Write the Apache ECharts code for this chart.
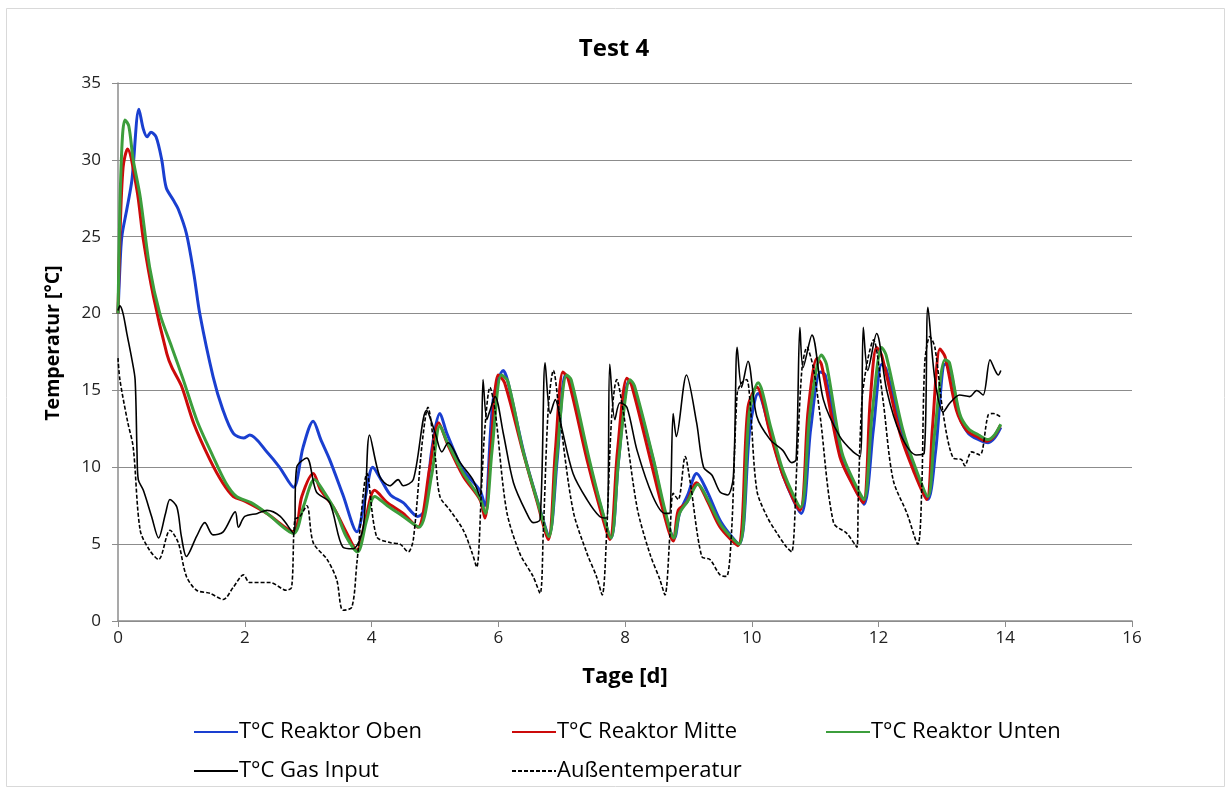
<!DOCTYPE html>
<html>
<head>
<meta charset="utf-8">
<title>Test 4</title>
<script src="https://cdn.jsdelivr.net/npm/echarts@6/dist/echarts.min.js"></script>
<style>
  html, body { margin: 0; padding: 0; background: #fff; }
  #chart { width: 1228px; height: 793px; }
</style>
</head>
<body>
<div id="chart"></div>
<script>
// Reihen: [Tage, Temperatur °C]
const seriesNames = ['T°C Reaktor Oben', 'T°C Reaktor Mitte', 'T°C Reaktor Unten', 'T°C Gas Input', 'Außentemperatur'];

const reaktorOben = [
  [0,20],[0.03,23],[0.06,25],[0.14,26.8],[0.22,28.7],[0.33,33.3],[0.4,32],[0.46,31.5],[0.52,31.8],[0.6,31.5],
  [0.69,30],[0.76,28.2],[0.87,27.4],[0.95,26.8],[1.08,25.2],[1.2,22.5],[1.29,20],[1.5,15.9],[1.65,13.8],[1.82,12.2],
  [1.98,11.9],[2.08,12.1],[2.35,11],[2.55,10],[2.77,8.7],[2.92,11.3],[3.08,13],[3.2,11.8],[3.34,10.5],[3.55,8.2],
  [3.77,5.8],[3.9,8],[4.02,10],[4.15,9.2],[4.3,8.2],[4.5,7.7],[4.73,6.8],[4.84,7.2],[4.95,11.1],[5.08,13.5],
  [5.19,12.2],[5.45,9.8],[5.71,8.5],[5.79,7.5],[5.92,14.4],[6.08,16.3],[6.15,15.6],[6.4,11],[6.62,7.8],[6.8,5.6],
  [6.93,10.5],[7.06,16],[7.14,15.6],[7.42,10.6],[7.62,7.4],[7.78,5.4],[7.9,10.5],[8.06,15.6],[8.14,15.2],[8.45,10.4],
  [8.62,7.2],[8.78,5.4],[8.86,7],[8.99,8.2],[9.13,9.6],[9.3,8.4],[9.52,6.4],[9.8,5.0],[9.97,12.5],[10.1,14.8],
  [10.3,12.2],[10.5,9.4],[10.78,7.0],[10.93,12.5],[11.08,16.2],[11.16,16],[11.42,10.5],[11.62,8.7],[11.77,7.6],[11.92,12.5],
  [12.05,16.7],[12.12,16.4],[12.38,12.2],[12.58,9.8],[12.78,7.9],[12.9,11],[13.05,16.7],[13.12,16.6],[13.28,13.3],[13.42,12.2],
  [13.58,11.8],[13.73,11.6],[13.83,11.9],[13.93,12.6]
];

const reaktorMitte = [
  [0,20],[0.03,25],[0.08,29.5],[0.15,30.7],[0.3,28],[0.4,24.8],[0.56,21.1],[0.77,17.4],[0.85,16.5],[1.0,15.3],
  [1.2,12.8],[1.45,10.5],[1.65,9],[1.82,8.1],[2.0,7.8],[2.35,7],[2.77,5.8],[2.9,8.1],[3.08,9.6],[3.2,8.5],
  [3.4,7.4],[3.6,5.8],[3.77,4.6],[3.9,6.5],[4.05,8.5],[4.25,7.7],[4.5,7.0],[4.73,6.1],[4.92,10],[5.06,12.9],
  [5.2,11.5],[5.45,9.4],[5.71,7.9],[5.79,6.7],[5.88,11],[6.0,16],[6.1,15.5],[6.39,11],[6.61,7.8],[6.79,5.3],
  [6.9,11],[7.02,16.2],[7.1,15.8],[7.4,10.5],[7.6,7.4],[7.76,5.3],[7.88,11],[8.03,15.8],[8.1,15.4],[8.4,10.5],
  [8.6,7.2],[8.76,5.2],[8.84,7.2],[8.97,7.7],[9.13,9.0],[9.3,7.8],[9.5,6.1],[9.78,4.9],[9.94,13.9],[10.08,15.2],
  [10.29,12.2],[10.5,9.4],[10.76,7.2],[10.89,13.7],[11.03,17.1],[11.1,16.7],[11.39,10.7],[11.6,8.8],[11.76,7.7],[11.87,14.4],
  [11.97,17.8],[12.05,17.3],[12.34,12.2],[12.55,9.8],[12.76,7.9],[12.85,12.5],[12.97,17.7],[13.05,17.2],[13.23,13.7],[13.39,12.4],
  [13.55,12],[13.71,11.7],[13.82,12],[13.92,12.7]
];

const reaktorUnten = [
  [0,20],[0.03,27],[0.07,31.5],[0.11,32.6],[0.17,32.2],[0.24,30],[0.35,27.6],[0.5,23],[0.66,20],[0.85,17.8],
  [1.03,15.7],[1.25,13],[1.5,10.7],[1.7,9],[1.87,8.1],[2.1,7.7],[2.35,7],[2.77,5.7],[2.93,7.5],[3.1,9.2],
  [3.25,8.4],[3.45,7],[3.6,5.5],[3.78,4.5],[3.92,6.5],[4.05,8.1],[4.25,7.5],[4.5,6.8],[4.75,6.1],[4.95,9.5],
  [5.08,12.7],[5.2,11.6],[5.45,9.6],[5.71,8.0],[5.8,7.0],[5.9,11],[6.05,16],[6.15,15.6],[6.39,11.1],[6.61,7.9],
  [6.8,5.5],[6.92,10.5],[7.08,16],[7.15,15.7],[7.42,10.8],[7.62,7.5],[7.78,5.4],[7.9,10.5],[8.08,15.7],[8.15,15.3],
  [8.45,10.5],[8.62,7.4],[8.77,5.4],[8.86,7],[8.99,7.8],[9.15,8.9],[9.32,7.8],[9.52,6.2],[9.8,5.0],[9.96,13.5],
  [10.1,15.5],[10.3,12.6],[10.5,9.7],[10.77,7.4],[10.92,13.6],[11.1,17.3],[11.18,16.7],[11.42,11],[11.62,9],[11.77,7.9],
  [11.9,13.5],[12.05,17.8],[12.12,17.3],[12.38,12.5],[12.58,10],[12.78,8.1],[12.88,12],[13.05,17.0],[13.12,16.8],[13.28,13.5],
  [13.42,12.5],[13.58,12.1],[13.73,11.8],[13.83,12.1],[13.93,12.8]
];

const gasInput = [
  [0,20.2],[0.03,20.5],[0.08,20],[0.14,18.7],[0.22,17],[0.27,15.7],[0.3,11],[0.32,9.2],[0.4,8.5],[0.53,6.8],
  [0.64,5.4],[0.75,7],[0.82,7.9],[0.93,7.4],[1.0,5.5],[1.08,4.2],[1.24,5.5],[1.37,6.4],[1.5,5.6],[1.66,5.8],
  [1.85,7.1],[1.9,6.1],[2.0,6.8],[2.2,7],[2.35,7.2],[2.56,6.8],[2.77,5.7],[2.82,10],[2.98,10.6],[3.13,8.4],
  [3.34,7.7],[3.55,4.8],[3.71,4.7],[3.87,6.1],[3.97,12.1],[4.13,9.4],[4.29,8.8],[4.42,9.2],[4.5,8.8],[4.66,9.2],
  [4.87,13.7],[5.0,12.3],[5.11,11],[5.21,11.6],[5.4,10.3],[5.6,9.2],[5.71,8.1],[5.76,15.7],[5.82,13.1],[5.87,13.7],
  [5.95,14.6],[6.08,12.2],[6.24,9],[6.45,7],[6.55,6.4],[6.66,6.6],[6.74,16.8],[6.82,13.5],[6.9,14.4],[7.0,12.6],
  [7.18,9.6],[7.4,7.9],[7.6,6.8],[7.71,6.7],[7.76,16.7],[7.84,13.1],[7.92,14.2],[8.03,13.9],[8.19,11.1],[8.44,8.1],
  [8.63,7],[8.7,7],[8.76,13.5],[8.81,12],[8.97,16],[9.13,12.9],[9.24,10],[9.37,9.5],[9.5,8.4],[9.62,8.2],
  [9.71,9.4],[9.77,17.8],[9.84,15.2],[9.94,16.9],[10.08,13.3],[10.29,11.8],[10.49,11.1],[10.63,10.3],[10.7,10.5],[10.76,19.1],
  [10.81,16.5],[10.95,18.6],[11.13,14.4],[11.39,12],[11.6,11],[11.71,10.7],[11.76,19.1],[11.83,16.3],[11.97,18.7],[12.13,15],
  [12.34,12.2],[12.6,10.8],[12.72,10.9],[12.78,20.4],[12.89,15.7],[13.02,13.6],[13.13,14.2],[13.28,14.7],[13.44,14.6],[13.55,15],
  [13.65,14.7],[13.76,17],[13.84,16.3],[13.89,16],[13.93,16.3]
];

const aussenTemp = [
  [0,17.1],[0.03,15.7],[0.15,13],[0.24,11.3],[0.35,5.9],[0.5,4.6],[0.64,4],[0.82,5.9],[0.95,5.1],[1.08,2.9],
  [1.24,2],[1.45,1.8],[1.66,1.4],[1.82,2.2],[1.98,3],[2.08,2.5],[2.4,2.5],[2.66,2],[2.74,2.2],[2.79,6.6],
  [2.87,6.8],[2.98,7.5],[3.08,5.1],[3.3,4],[3.45,2.7],[3.55,0.7],[3.69,0.9],[3.77,3.8],[3.93,9.6],[4.08,5.5],
  [4.29,5.1],[4.45,5],[4.58,4.5],[4.66,5.3],[4.8,11.6],[4.89,13.9],[5.0,10.9],[5.08,8.1],[5.24,7.2],[5.45,5.9],
  [5.59,4.4],[5.66,3.5],[5.74,9],[5.79,12.6],[5.87,15.2],[5.95,13.7],[6.13,7.2],[6.34,4.4],[6.55,2.9],[6.66,1.8],
  [6.71,5.7],[6.79,13.9],[6.87,16.3],[6.97,13.3],[7.18,7.2],[7.4,4.4],[7.55,2.9],[7.64,1.7],[7.71,5.7],[7.79,13.3],
  [7.87,15.7],[7.97,13.7],[8.19,7.4],[8.39,4.4],[8.55,2.7],[8.63,1.7],[8.71,5.7],[8.76,8.3],[8.84,7.9],[8.95,10.7],
  [9.03,9],[9.21,4.2],[9.34,4],[9.5,3],[9.6,2.9],[9.68,5.7],[9.77,14.8],[9.84,15.5],[9.92,15.7],[9.97,14.4],
  [10.08,8.5],[10.24,6.8],[10.4,5.7],[10.55,4.8],[10.63,4.5],[10.71,10],[10.79,16.3],[10.87,17.8],[10.97,16.5],[11.08,13.3],
  [11.29,6.4],[11.5,5.7],[11.66,4.8],[11.68,7.9],[11.74,14.4],[11.83,17],[11.92,18.3],[12.07,14.4],[12.23,9.2],[12.45,7],
  [12.62,5],[12.68,8.3],[12.73,16.8],[12.81,18.5],[12.89,17.8],[13.02,13.5],[13.18,10.6],[13.31,10.5],[13.36,10.1],[13.47,11],
  [13.6,10.8],[13.73,13.4],[13.81,13.5],[13.92,13.3]
];

const seriesData = [reaktorOben, reaktorMitte, reaktorUnten, gasInput, aussenTemp];
const seriesColors = ['#1a3fd0', '#cc0a0a', '#3c9e3c', '#000000', '#000000'];
const seriesWidths = [3, 3, 3, 1.6, 1.6];
const seriesTypes = ['solid', 'solid', 'solid', 'solid', [4, 2]];

const font = 'Open Sans';

const chart = echarts.init(document.getElementById('chart'));

// Legendenpositionen wie im Excel-Diagramm (3 Spalten, 2 Zeilen)
const legendPos = [[188, 716], [506, 716], [820, 716], [188, 755], [506, 755]];
const legends = seriesNames.map((n, i) => ({
  data: [n],
  left: legendPos[i][0],
  top: legendPos[i][1],
  itemWidth: 44,
  itemHeight: 14,
  itemGap: 0,
  itemStyle: { opacity: 0 },
  textStyle: { fontFamily: font, fontSize: 22, color: '#000', padding: [0, 0, 0, -4] },
}));

const option = {
  backgroundColor: '#fff',
  animation: false,
  title: {
    text: 'Test 4',
    left: 'center',
    top: 32,
    textStyle: { fontFamily: font, fontSize: 24, fontWeight: 'bold', color: '#000' },
  },
  legend: legends,
  grid: { left: 118, right: 96, top: 83, bottom: 172 },
  xAxis: {
    type: 'value',
    min: 0,
    max: 16,
    interval: 2,
    name: 'Tage [d]',
    nameLocation: 'middle',
    nameGap: 45,
    nameTextStyle: { fontFamily: font, fontSize: 22, fontWeight: 'bold', color: '#000' },
    axisLine: { show: true, onZero: false, lineStyle: { color: '#8c8c8c', width: 1.5 } },
    axisTick: { show: true, inside: false, length: 6, lineStyle: { color: '#8c8c8c' } },
    axisLabel: { margin: 9, fontFamily: font, fontSize: 17, color: '#222' },
    splitLine: { show: false },
  },
  yAxis: {
    type: 'value',
    min: 0,
    max: 35,
    interval: 5,
    name: 'Temperatur [°C]',
    nameLocation: 'middle',
    nameGap: 55,
    nameTextStyle: { fontFamily: font, fontSize: 19.5, fontWeight: 'bold', color: '#000', padding: [0, 0, 0, 18] },
    axisLine: { show: true, lineStyle: { color: '#8c8c8c', width: 1.5 } },
    axisTick: { show: true, inside: false, length: 6, lineStyle: { color: '#8c8c8c' } },
    axisLabel: { margin: 17, fontFamily: font, fontSize: 17, color: '#222' },
    splitLine: { show: true, lineStyle: { color: '#8c8c8c', width: 1 } },
  },
  graphic: [
    {
      type: 'rect',
      shape: { x: 6.5, y: 8.5, width: 1218, height: 778 },
      style: { fill: 'none', stroke: '#d9d9d9', lineWidth: 1 },
      silent: true,
    },
  ],
  series: seriesNames.map((n, i) => ({
    name: n,
    type: 'line',
    data: seriesData[i],
    symbol: 'none',
    smooth: 0.3,
    z: i >= 3 ? 3 : 2,
    lineStyle: { color: seriesColors[i], width: seriesWidths[i], type: seriesTypes[i] },
    itemStyle: { color: seriesColors[i] },
  })),
};

chart.setOption(option);
</script>
</body>
</html>
